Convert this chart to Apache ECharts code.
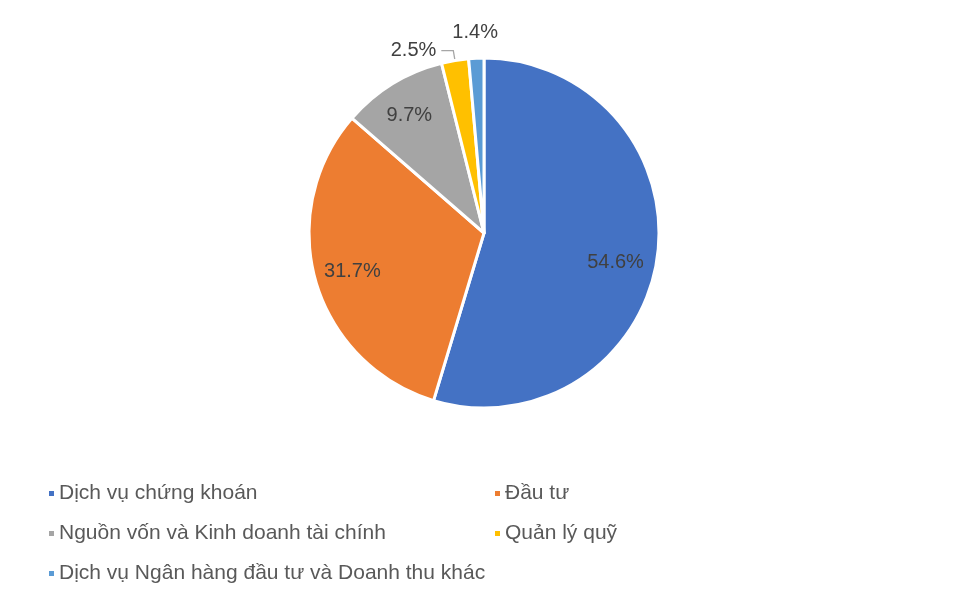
<!DOCTYPE html>
<html>
<head>
<meta charset="utf-8">
<script src="https://cdn.jsdelivr.net/npm/echarts@6/dist/echarts.min.js"></script>
<style>
    html, body { margin: 0; padding: 0; background: #fff; }
    #chart { width: 975px; height: 597px; }
</style>
</head>
<body>
<div id="chart"></div>
<script>
// categories and shares (%)
const categories = [
    "Dịch vụ chứng khoán",
    "Đầu tư",
    "Nguồn vốn và Kinh doanh tài chính",
    "Quản lý quỹ",
    "Dịch vụ Ngân hàng đầu tư và Doanh thu khác"
];
const shares = [54.6, 31.7, 9.7, 2.5, 1.4];
const colors = ["#4472C4", "#ED7D31", "#A5A5A5", "#FFC000", "#5B9BD5"];
// which labels sit inside the slice, which ones go outside
const labelPlace = ["inside", "inside", "inside", "line", "top"];

const font = "Arial, 'Liberation Sans', sans-serif";
const center = [484, 233];
const R = 175;

var chart = echarts.init(document.getElementById("chart"), null, { renderer: "canvas" });

function pieData(filter) {
    return categories.map(function (name, i) {
        return {
            name: name,
            value: shares[i],
            itemStyle: { color: colors[i] },
            label: { show: filter(i) }
        };
    });
}

function pct(p) { return p.value.toFixed(1) + "%"; }

var legendText = { fontFamily: font, fontSize: 21, color: "#595959", padding: [0, 0, 0, -1] };

var option = {
    animation: false,
    backgroundColor: "#ffffff",
    legend: [
        {
            left: 42, top: 478,
            orient: "vertical",
            icon: "rect", itemWidth: 7, itemHeight: 7, itemGap: 19,
            data: [categories[0], categories[2], categories[4]],
            textStyle: legendText,
            selectedMode: false
        },
        {
            left: 488, top: 478,
            orient: "vertical",
            icon: "rect", itemWidth: 7, itemHeight: 7, itemGap: 19,
            data: [categories[1], categories[3]],
            textStyle: legendText,
            selectedMode: false
        }
    ],
    series: [
        {
            // the pie itself, with the 2.5% label on a leader line
            type: "pie",
            center: center,
            radius: [0, R],
            startAngle: 90,
            clockwise: true,
            silent: true,
            itemStyle: { borderColor: "#ffffff", borderWidth: 3 },
            label: {
                position: "outside",
                formatter: pct,
                fontFamily: font, fontSize: 20, color: "#404040"
            },
            labelLine: { length: 10, length2: 12, lineStyle: { color: "#A6A6A6", width: 1.3 } },
            data: pieData(function (i) { return labelPlace[i] === "line"; })
        },
        {
            // transparent ring, only to hold the inner labels further out
            type: "pie",
            center: center,
            radius: [93, R],
            startAngle: 90,
            clockwise: true,
            silent: true,
            itemStyle: { color: "transparent", borderWidth: 0, opacity: 0 },
            label: {
                position: "inside",
                formatter: pct,
                fontFamily: font, fontSize: 20, color: "#404040", opacity: 1
            },
            labelLine: { show: false },
            labelLayout: function (params) {
                if (params.dataIndex === 0) return { dx: -4, dy: 10 };
                if (params.dataIndex === 2) return { dx: -3, dy: -1 };
                return {};
            },
            data: pieData(function (i) { return labelPlace[i] === "inside"; })
        },
        {
            // ring above the pie for the tiny slice label
            type: "pie",
            center: center,
            radius: [R, 221],
            startAngle: 90,
            clockwise: true,
            silent: true,
            itemStyle: { color: "transparent", borderWidth: 0, opacity: 0 },
            label: {
                position: "inside",
                formatter: pct,
                fontFamily: font, fontSize: 20, color: "#404040", opacity: 1
            },
            labelLine: { show: false },
            data: pieData(function (i) { return labelPlace[i] === "top"; })
        }
    ]
};

chart.setOption(option);
</script>
</body>
</html>
